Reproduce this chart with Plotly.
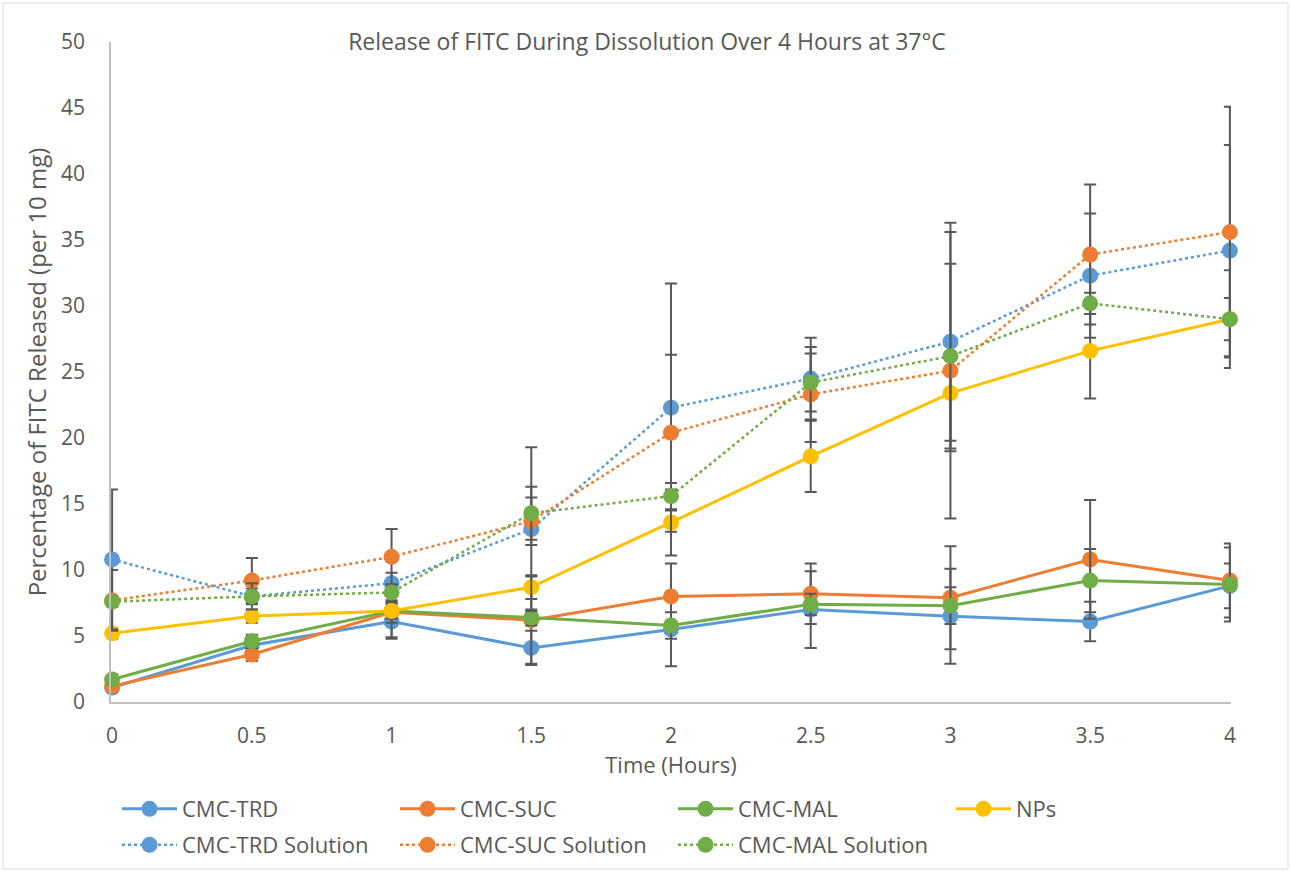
import plotly.graph_objects as go

# Sampling times (hours)
time_h = [0, 0.5, 1, 1.5, 2, 2.5, 3, 3.5, 4]
x_tick_labels = ["0", "0.5", "1", "1.5", "2", "2.5", "3", "3.5", "4"]
y_tick_vals = [0, 5, 10, 15, 20, 25, 30, 35, 40, 45, 50]

# Mean % FITC released (per 10 mg)
cmc_trd = [1.1, 4.3, 6.1, 4.1, 5.5, 7.0, 6.5, 6.1, 8.8]
cmc_suc = [1.2, 3.6, 6.8, 6.2, 8.0, 8.2, 7.9, 10.8, 9.2]
cmc_mal = [1.7, 4.6, 6.9, 6.4, 5.8, 7.4, 7.3, 9.2, 8.9]
nps = [5.2, 6.5, 6.9, 8.7, 13.6, 18.6, 23.4, 26.6, 29.0]
cmc_trd_sol = [10.8, 8.0, 9.0, 13.1, 22.3, 24.5, 27.3, 32.3, 34.2]
cmc_suc_sol = [7.7, 9.2, 11.0, 13.7, 20.4, 23.3, 25.1, 33.9, 35.6]
cmc_mal_sol = [7.6, 8.0, 8.3, 14.3, 15.6, 24.2, 26.2, 30.2, 29.0]

# Standard deviations
cmc_trd_sd = [0.3, 0.4, 1.3, 1.3, 2.8, 2.9, 3.6, 1.5, 1.7]
cmc_suc_sd = [0.3, 0.5, 0.8, 3.3, 2.5, 2.3, 3.9, 4.5, 2.8]
cmc_mal_sd = [0.4, 0.5, 2.0, 0.6, 1.0, 0.8, 1.4, 2.4, 2.8]
nps_sd = [0.4, 0.5, 0.6, 0.9, 2.5, 2.7, 3.6, 3.6, 1.6]
cmc_trd_sol_sd = [5.3, 0.6, 0.8, 6.2, 9.4, 3.1, 8.3, 4.7, 8.0]
cmc_suc_sol_sd = [2.3, 1.7, 2.1, 1.8, 5.9, 3.6, 11.2, 5.3, 9.5]
cmc_mal_sol_sd = [0.4, 1.0, 0.6, 2.0, 1.0, 2.2, 7.0, 0.8, 3.7]

BLUE, ORANGE, GREEN, GOLD = "#5B9BD5", "#ED7D31", "#70AD47", "#FFC000"
TEXT = "#595959"
FONT = "Open Sans"

# (name, values, sd, colour, dash, legend row)
series = [
    ("CMC-TRD", cmc_trd, cmc_trd_sd, BLUE, "solid", "legend"),
    ("CMC-SUC", cmc_suc, cmc_suc_sd, ORANGE, "solid", "legend"),
    ("CMC-MAL", cmc_mal, cmc_mal_sd, GREEN, "solid", "legend"),
    ("NPs", nps, nps_sd, GOLD, "solid", "legend"),
    ("CMC-TRD Solution", cmc_trd_sol, cmc_trd_sol_sd, BLUE, "dot", "legend2"),
    ("CMC-SUC Solution", cmc_suc_sol, cmc_suc_sol_sd, ORANGE, "dot", "legend2"),
    ("CMC-MAL Solution", cmc_mal_sol, cmc_mal_sol_sd, GREEN, "dot", "legend2"),
]

fig = go.Figure()
for name, vals, sd, color, dash, leg in series:
    fig.add_trace(go.Scatter(
        x=time_h, y=vals, name=name, mode="lines+markers", legend=leg,
        cliponaxis=False,
        line=dict(color=color, width=3 if dash == "solid" else 2.5, dash=dash),
        marker=dict(color=color, size=16),
        error_y=dict(type="data", array=sd, visible=True,
                     color="#595959", thickness=2, width=6),
    ))

W, H = 1291, 872
L, R, T, B = 111, 60, 42, 170
pw, ph = W - L - R, H - T - B
pad = 0.004  # small x padding so end-point error bars are not clipped


def legend_row(y_center):
    return dict(
        orientation="h", xref="container", yref="container",
        x=117 / W, xanchor="left",
        y=1 - y_center / H, yanchor="middle",
        entrywidth=208, entrywidthmode="pixels", itemwidth=55,
        font=dict(size=22, color=TEXT, family=FONT), bgcolor="rgba(0,0,0,0)",
    )


fig.update_layout(
    width=W, height=H,
    margin=dict(l=L, r=R, t=T, b=B),
    paper_bgcolor="white", plot_bgcolor="white",
    font=dict(family=FONT, color=TEXT, size=20),
    title=dict(text="Release of FITC During Dissolution Over 4 Hours at 37°C",
               x=647 / W, xanchor="center", y=1 - 42 / H, yanchor="middle",
               font=dict(size=23, color=TEXT, family=FONT)),
    xaxis=dict(
        range=[-pad, 4 + pad], tickvals=time_h, ticktext=x_tick_labels,
        showgrid=False, zeroline=False, showline=True,
        linecolor="#BFBFBF", linewidth=1.5,
        ticks="outside", ticklen=14, tickcolor="rgba(0,0,0,0)",
        tickfont=dict(size=21, color=TEXT),
        title=dict(text="Time (Hours)", font=dict(size=22, color=TEXT), standoff=4),
    ),
    yaxis=dict(
        range=[0, 50], tickvals=y_tick_vals,
        showgrid=False, zeroline=False, showline=True,
        linecolor="#BFBFBF", linewidth=1.5,
        ticks="outside", ticklen=20, tickcolor="rgba(0,0,0,0)",
        tickfont=dict(size=21, color=TEXT),
        title=dict(text="Percentage of FITC Released (per 10 mg)",
                   font=dict(size=24, color=TEXT), standoff=8),
    ),
    legend=legend_row(809),
    legend2=legend_row(845),
    shapes=[dict(
        type="rect", xref="paper", yref="paper",
        x0=(3 - L) / pw, x1=(1288 - L) / pw,
        y0=-(869 - (T + ph)) / ph, y1=(T + ph - 3) / ph,
        line=dict(color="#D9D9D9", width=1), fillcolor="rgba(0,0,0,0)",
        layer="below",
    )],
)

fig.write_html("out.html")
